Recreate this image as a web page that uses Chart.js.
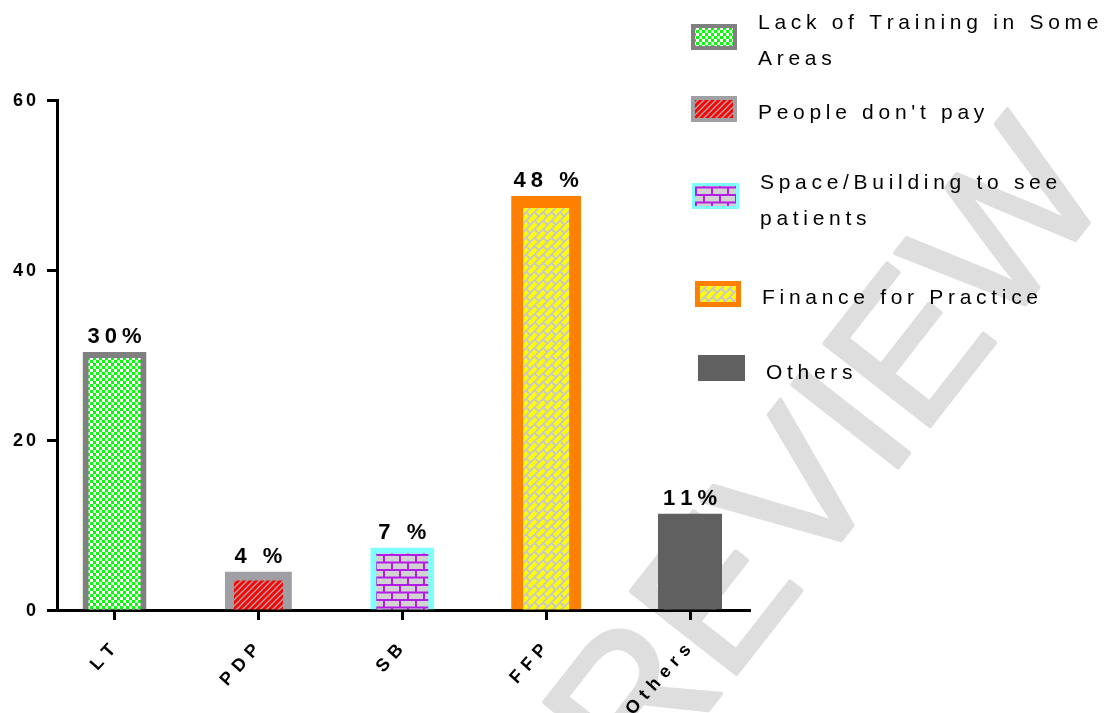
<!DOCTYPE html>
<html><head><meta charset="utf-8">
<script src="https://cdn.jsdelivr.net/npm/chart.js@4.4.1/dist/chart.umd.min.js"></script>
<style>html,body{margin:0;padding:0;background:#fff;overflow:hidden}canvas{display:block}</style>
</head><body>
<canvas id="c" width="1109" height="713"></canvas>
<script>
const categories = ['LT', 'PDP', 'SB', 'FFP', 'Others'];
const values = [30, 4, 7, 48, 11];
const valueLabels = ['30%', '4 %', '7 %', '48 %', '11%'];
const legendLabels = [['Lack of Training in Some', 'Areas'], ["People don't pay"], ['Space/Building to see', 'patients'], ['Finance for Practice'], ['Others']];
const yTickValues = [0, 20, 40, 60];
const watermarkText = 'PREVIEW';

const FONT = '"Liberation Sans", Arial, sans-serif';

function mk(w, h) { const c = document.createElement('canvas'); c.width = w; c.height = h; return c; }
const main = document.getElementById('c').getContext('2d');

function checkerPattern() {
  const c = mk(6, 6), g = c.getContext('2d');
  g.fillStyle = '#ffffff'; g.fillRect(0, 0, 6, 6);
  g.fillStyle = '#00ff00'; g.fillRect(0, 0, 3, 3); g.fillRect(3, 3, 3, 3);
  return main.createPattern(c, 'repeat');
}
function stripePattern() {
  const c = mk(6, 6), g = c.getContext('2d');
  g.fillStyle = '#ff0000'; g.fillRect(0, 0, 6, 6);
  g.strokeStyle = '#a8a8ac'; g.lineWidth = 1.4;
  g.beginPath();
  g.moveTo(-1, 7); g.lineTo(7, -1);
  g.moveTo(-2, 2); g.lineTo(2, -2);
  g.moveTo(4, 8); g.lineTo(8, 4);
  g.stroke();
  return main.createPattern(c, 'repeat');
}
function brickPattern(tw, th, m, brickC, mortarC) {
  const c = mk(tw, th), g = c.getContext('2d');
  g.fillStyle = mortarC; g.fillRect(0, 0, tw, th);
  g.fillStyle = brickC;
  const rh = th / 2;
  g.fillRect(m / 2, m / 2, tw - m, rh - m);
  g.fillRect(-tw / 2 + m / 2, rh + m / 2, tw - m, rh - m);
  g.fillRect(tw / 2 + m / 2, rh + m / 2, tw - m, rh - m);
  return c;
}
function sbPattern() {
  return main.createPattern(brickPattern(16, 15, 2, '#d2d2d2', '#b21ee6'), 'repeat');
}
function ffpPattern() {
  const p = main.createPattern(brickPattern(12, 12, 2, '#ffff00', '#c8c8c8'), 'repeat');
  p.setTransform(new DOMMatrix().rotate(-45));
  return p;
}

const fills = [checkerPattern(), stripePattern(), sbPattern(), ffpPattern(), '#606060'];
const borders = ['#808080', '#a0a0a4', '#80ffff', '#ff8000', '#606060'];
const borderWidths = [6, 9, 6, 12, 6];

function spaced(ctx, text, x, y, spacing, align) {
  const chars = [...text];
  const widths = chars.map(ch => ctx.measureText(ch).width);
  const total = widths.reduce((a, b) => a + b, 0) + spacing * (chars.length - 1);
  let cx = align === 'center' ? x - total / 2 : align === 'right' ? x - total : x;
  ctx.textAlign = 'left';
  chars.forEach((ch, i) => { ctx.fillText(ch, cx, y); cx += widths[i] + spacing; });
}

const bgPlugin = {
  id: 'bg',
  beforeDraw(chart) {
    const ctx = chart.ctx;
    ctx.save();
    ctx.fillStyle = '#ffffff';
    ctx.fillRect(0, 0, chart.width, chart.height);
    ctx.translate(560, 900);
    ctx.rotate(-52 * Math.PI / 180);
    ctx.font = '195px ' + FONT;
    ctx.fillStyle = '#dedede';
    ctx.strokeStyle = '#dedede';
    ctx.lineWidth = 4;
    ctx.lineJoin = 'round';
    ctx.textAlign = 'left';
    ctx.textBaseline = 'alphabetic';
    ctx.fillText(watermarkText, 0, 0);
    ctx.strokeText(watermarkText, 0, 0);
    ctx.restore();
  }
};

const textPlugin = {
  id: 'texts',
  afterDraw(chart) {
    const ctx = chart.ctx;
    const xs = chart.scales.x, ys = chart.scales.y;
    ctx.save();
    ctx.fillStyle = '#000';
    ctx.font = 'bold 18px ' + FONT;
    ctx.textBaseline = 'middle';
    ys.ticks.forEach(t => spaced(ctx, String(t.value), 36, ys.getPixelForValue(t.value) + 1, 3, 'right'));
    ctx.font = 'bold 18px ' + FONT;
    xs.ticks.forEach(t => {
      ctx.save();
      ctx.translate(xs.getPixelForValue(t.value) - 2, 647);
      ctx.rotate(-48 * Math.PI / 180);
      ctx.textBaseline = 'middle';
      spaced(ctx, categories[t.value], 0, 0, 6, 'right');
      ctx.restore();
    });
    const meta = chart.getDatasetMeta(0);
    ctx.font = 'bold 22px ' + FONT;
    ctx.textBaseline = 'alphabetic';
    meta.data.forEach((bar, i) => {
      spaced(ctx, valueLabels[i], bar.x, bar.y - borderWidths[i] / 2 - 9, 5, 'center');
    });
    const sw = [[691, 24, 46, 26, 4], [691, 96, 46, 26, 4], [692, 183, 47, 26, 3], [695, 281, 46, 26, 5], [698, 355, 47, 26, 0]];
    const tx = [758, 758, 760, 762, 766];
    const ty = [29, 119, 189, 304, 379];
    legendLabels.forEach((lines, i) => {
      const [x, y, w, h, b] = sw[i];
      if (b > 0) {
        ctx.fillStyle = borders[i];
        ctx.fillRect(x, y, w, h);
        ctx.fillStyle = fills[i];
        ctx.fillRect(x + b, y + b, w - 2 * b, h - 2 * b);
      } else {
        ctx.fillStyle = fills[i];
        ctx.fillRect(x, y, w, h);
      }
      ctx.fillStyle = '#000';
      ctx.font = '21px ' + FONT;
      ctx.textBaseline = 'alphabetic';
      lines.forEach((ln, k) => spaced(ctx, ln, tx[i], ty[i] + k * 36, 4.7, 'left'));
    });
    ctx.restore();
  }
};

const axisGrid = { display: true, drawOnChartArea: false, drawTicks: true, tickLength: 10, tickWidth: 3, tickColor: '#000', color: '#000', offset: false };

new Chart(document.getElementById('c'), {
  type: 'bar',
  data: {
    datasets: [{
      data: values.map((v, i) => ({ x: i, y: v })),
      backgroundColor: fills,
      borderColor: borders,
      borderWidth: borderWidths,
      inflateAmount: borderWidths.map(b => b / 2),
      borderSkipped: 'start',
      barThickness: 58,
      clip: { left: false, top: false, right: false, bottom: 0 }
    }]
  },
  options: {
    responsive: false,
    animation: false,
    devicePixelRatio: 1,
    layout: { padding: { top: 100, right: 359, bottom: 0, left: 0 } },
    plugins: { legend: { display: false }, tooltip: { enabled: false } },
    scales: {
      x: {
        type: 'linear', min: -0.4, max: 4.417, z: 1, offset: false,
        afterBuildTicks: s => { s.ticks = categories.map((c, i) => ({ value: i })); },
        afterFit: s => { s.height = 103; },
        ticks: { display: false },
        grid: axisGrid,
        border: { display: true, width: 3, color: '#000' }
      },
      y: {
        min: 0, max: 60, z: 1,
        afterBuildTicks: s => { s.ticks = yTickValues.map(v => ({ value: v })); },
        afterFit: s => { s.width = 57; },
        ticks: { display: false },
        grid: axisGrid,
        border: { display: true, width: 3, color: '#000' }
      }
    }
  },
  plugins: [bgPlugin, textPlugin]
});
</script>
</body></html>
